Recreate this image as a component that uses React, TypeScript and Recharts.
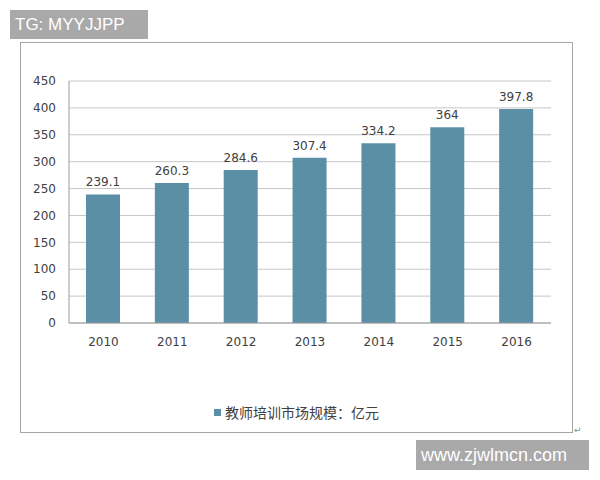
import { BarChart, Bar, XAxis, YAxis, CartesianGrid, LabelList } from 'recharts';

const years = ['2010', '2011', '2012', '2013', '2014', '2015', '2016'];
const marketSize = [239.1, 260.3, 284.6, 307.4, 334.2, 364, 397.8];
const yTicks = [0, 50, 100, 150, 200, 250, 300, 350, 400, 450];
const seriesName = '教师培训市场规模：亿元';

const chartData = years.map((year, i) => ({ year, value: marketSize[i] }));

const BAR_COLOR = '#5b8fa6';
const TEXT_COLOR = '#404040';
const numFont = '"DejaVu Sans", sans-serif';

export default function App() {
  return (
    <div style={{ position: 'absolute', left: 0, top: 0, width: 600, height: 480, background: '#fff' }}>
      {/* outer frame */}
      <div
        style={{
          position: 'absolute',
          left: 20,
          top: 42,
          width: 553,
          height: 391,
          border: '1px solid #a6a6a6',
          boxSizing: 'border-box',
        }}
      />
      <div style={{ position: 'absolute', left: 20, top: 42 }}>
        <BarChart
          width={553}
          height={391}
          data={chartData}
          margin={{ top: 39, right: 22, left: 0, bottom: 80 }}
          barSize={34}
        >
          <CartesianGrid vertical={false} stroke="#c6c6c6" />
          <XAxis
            dataKey="year"
            height={30}
            tickLine={false}
            tickSize={0}
            tickMargin={14}
            axisLine={{ stroke: '#9a9a9a' }}
            tick={{ fill: TEXT_COLOR, fontSize: 12, fontFamily: numFont }}
          />
          <YAxis
            width={49}
            domain={[0, 450]}
            ticks={yTicks}
            tickLine={false}
            tickSize={0}
            tickMargin={13}
            axisLine={{ stroke: '#9a9a9a' }}
            tick={{ fill: TEXT_COLOR, fontSize: 12, fontFamily: numFont }}
          />
          <Bar dataKey="value" fill={BAR_COLOR} isAnimationActive={false}>
            <LabelList
              dataKey="value"
              position="top"
              offset={8}
              fill={TEXT_COLOR}
              fontSize={12}
              fontFamily={numFont}
            />
          </Bar>
        </BarChart>
      </div>
      {/* legend */}
      <div
        style={{
          position: 'absolute',
          left: 20,
          width: 553,
          top: 403,
          display: 'flex',
          justifyContent: 'center',
          alignItems: 'center',
          fontFamily: '"Noto Sans CJK SC", sans-serif',
          fontSize: 14,
          color: TEXT_COLOR,
          lineHeight: '18px',
        }}
      >
        <span style={{ display: 'inline-block', width: 7, height: 7, background: BAR_COLOR, marginRight: 4 }} />
        <span>{seriesName}</span>
      </div>
      {/* small return mark */}
      <div
        style={{
          position: 'absolute',
          left: 574,
          top: 425,
          fontSize: 9,
          color: '#888',
          fontFamily: '"DejaVu Sans", sans-serif',
        }}
      >
        ↵
      </div>
      {/* watermarks */}
      <div
        style={{
          position: 'absolute',
          left: 10,
          top: 10,
          width: 138,
          height: 29,
          background: '#a9a9a9',
          color: '#fff',
          fontFamily: '"Liberation Sans", Arial, sans-serif',
          fontSize: 17,
          lineHeight: '29px',
          paddingLeft: 5,
          boxSizing: 'border-box',
        }}
      >
        TG: MYYJJPP
      </div>
      <div
        style={{
          position: 'absolute',
          left: 416,
          top: 440,
          width: 173,
          height: 30,
          background: '#a9a9a9',
          color: '#fff',
          fontFamily: '"Liberation Sans", Arial, sans-serif',
          fontSize: 18,
          lineHeight: '30px',
          paddingLeft: 5,
          boxSizing: 'border-box',
        }}
      >
        www.zjwlmcn.com
      </div>
    </div>
  );
}
